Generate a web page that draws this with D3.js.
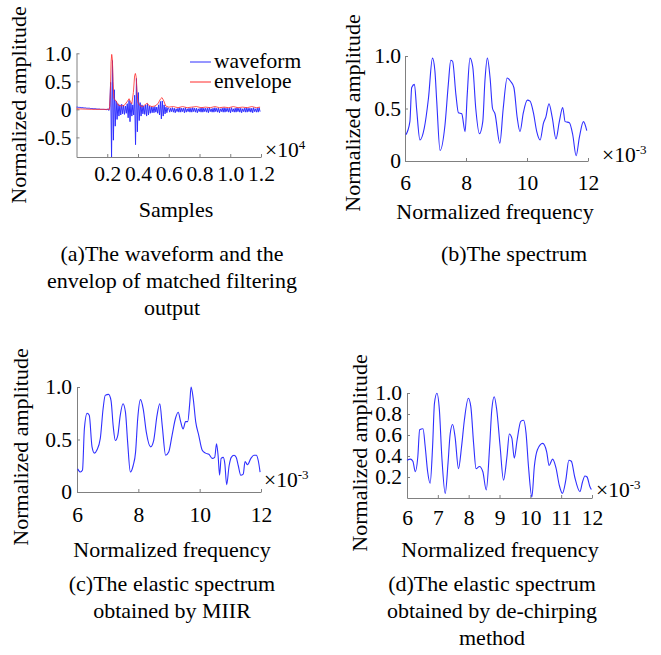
<!DOCTYPE html>
<html lang="en">
<head>
<meta charset="UTF-8">
<title>Matched filtering and spectra</title>
<script src="https://d3js.org/d3.v7.min.js"></script>
<style>
  body { margin: 0; background: #fff; }
  svg { display: block; }
  text { font-family: "Liberation Serif", "Times New Roman", serif; fill: #000; }
  .axis path, .axis line { stroke: #808080; }
  .axis text { font-size: 21.5px; font-family: "Liberation Serif", serif; }
</style>
</head>
<body>
<svg width="661" height="655"></svg>
<script>
// panel (a): samples of the matched filter output, one value every 60 samples
const waveStep = 60;
const waveform = [
  0.04, 0.04, 0.035, 0.035, 0.035, 0.03, 0.03, 0.03, 0.025, 0.025,
  0.025, 0.02, 0.02, 0.02, 0.02, 0.015, 0.015, 0.015, 0.01, 0.01,
  0.01, 0.01, 0.005, 0.005, 0.005, 0.005, 0.0, 0.0, 0.0, 0.0,
  0.0, -0.005, 0.0, -0.01, 0.01, -0.02, 0.05, 0.48, -0.85, 0.87,
  -0.55, 0.35, -0.3, 0.15, -0.18, 0.1, -0.12, 0.08, -0.1, 0.09,
  -0.08, 0.07, -0.09, 0.06, -0.07, 0.1, -0.15, 0.16, -0.22, 0.12,
  -0.12, 0.08, -0.1, 0.25, -0.63, 0.55, -0.4, 0.3, -0.2, 0.12,
  -0.12, 0.08, -0.08, 0.06, -0.09, 0.08, -0.12, 0.1, -0.1, 0.06,
  -0.07, 0.05, -0.06, 0.04, -0.06, 0.05, -0.05, 0.04, -0.07, 0.08,
  -0.1, 0.14, -0.17, 0.15, -0.12, 0.08, -0.08, 0.04, -0.06, 0.03,
  0.02, -0.05, 0.02, -0.04, 0.03, -0.05, 0.02, -0.06, 0.01, -0.04,
  0.02, -0.05, 0.03, -0.05, 0.02, -0.04, 0.02, -0.06, 0.03, -0.05,
  0.01, -0.04, 0.02, -0.05, 0.02, -0.05, 0.03, -0.04, 0.02, -0.05,
  0.02, -0.06, 0.01, -0.04, 0.02, -0.05, 0.03, -0.05, 0.02, -0.04,
  0.02, -0.05, 0.02, -0.06, 0.03, -0.04, 0.01, -0.05, 0.02, -0.05,
  0.03, -0.04, 0.02, -0.05, 0.02, -0.06, 0.01, -0.04, 0.02, -0.05,
  0.03, -0.05, 0.02, -0.04, 0.02, -0.05, 0.02, -0.06, 0.03, -0.04,
  0.01, -0.05, 0.02, -0.05, 0.03, -0.04, 0.02, -0.05, 0.02, -0.06,
  0.01, -0.04, 0.02, -0.05, 0.03, -0.05, 0.02, -0.04, 0.02, -0.05,
  0.02, -0.06, 0.03, -0.04, 0.01, -0.05, 0.02, -0.05, 0.03, -0.04
];
const envSamples = [0, 1000, 2000, 2150, 2200, 2250, 2290, 2330, 2380, 2430,
  2500, 2600, 2700, 2900, 3100, 3300, 3420, 3520, 3600, 3700,
  3780, 3830, 3880, 3940, 4000, 4150, 4300, 4500, 4600, 4700,
  4900, 5100, 5300, 5450, 5560, 5680, 5800, 6000, 6300, 6600,
  6900, 7200, 7500, 7800, 8100, 8400, 8700, 9000, 9300, 9600,
  9900, 10200, 10500, 10800, 11100, 11400, 11700, 11940];
const envValues = [0.01, 0.0, 0.0, 0.0, 0.3, 0.85, 0.98, 0.9, 0.5, 0.2,
  0.17, 0.14, 0.08, 0.06, 0.07, 0.14, 0.19, 0.13, 0.1, 0.3,
  0.6, 0.64, 0.58, 0.3, 0.12, 0.06, 0.05, 0.09, 0.11, 0.07,
  0.05, 0.06, 0.1, 0.18, 0.21, 0.15, 0.06, 0.04, 0.05, 0.03,
  0.05, 0.03, 0.04, 0.05, 0.03, 0.04, 0.03, 0.05, 0.03, 0.04,
  0.03, 0.05, 0.03, 0.04, 0.03, 0.05, 0.03, 0.04];

// panel (b): spectrum
const freqB = [6.03, 6.16, 6.22, 6.31, 6.38, 6.49, 6.63, 6.77, 6.90, 6.98,
  7.04, 7.15, 7.31, 7.42, 7.50, 7.56, 7.67, 7.75, 7.86, 7.97,
  8.04, 8.13, 8.22, 8.32, 8.44, 8.55, 8.62, 8.70, 8.79, 8.87,
  8.95, 9.11, 9.22, 9.35, 9.46, 9.57, 9.68, 9.77, 9.88, 10.01,
  10.10, 10.21, 10.32, 10.43, 10.54, 10.62, 10.72, 10.83, 10.95, 11.06,
  11.17, 11.25, 11.39, 11.50, 11.61, 11.72, 11.85, 11.96];
const ampB = [0.25, 0.375, 0.70, 0.73, 0.50, 0.20, 0.31, 0.60, 0.98, 0.86,
  0.57, 0.10, 0.34, 0.73, 0.96, 0.95, 0.63, 0.46, 0.45, 0.28,
  0.63, 0.98, 0.90, 0.50, 0.26, 0.375, 0.76, 0.98, 0.79, 0.50,
  0.45, 0.17, 0.50, 0.79, 0.76, 0.70, 0.41, 0.28, 0.46, 0.58,
  0.57, 0.46, 0.28, 0.20, 0.36, 0.42, 0.545, 0.41, 0.21, 0.375,
  0.51, 0.375, 0.365, 0.25, 0.05, 0.23, 0.375, 0.29];

// panel (c): elastic spectrum by MIIR
const freqC = [6.02, 6.11, 6.18, 6.24, 6.33, 6.40, 6.49, 6.57, 6.65, 6.76,
  6.85, 6.92, 7.03, 7.11, 7.18, 7.25, 7.33, 7.41, 7.50, 7.58,
  7.65, 7.74, 7.83, 7.91, 7.98, 8.07, 8.16, 8.26, 8.40, 8.50,
  8.61, 8.70, 8.78, 8.89, 8.99, 9.10, 9.21, 9.30, 9.38, 9.46,
  9.54, 9.61, 9.68, 9.72, 9.79, 9.87, 9.97, 10.08, 10.19, 10.30,
  10.41, 10.49, 10.55, 10.60, 10.65, 10.70, 10.77, 10.82, 10.88, 10.96,
  11.03, 11.12, 11.19, 11.26, 11.34, 11.42, 11.48, 11.56, 11.67, 11.77,
  11.85, 11.91, 11.97];
const ampC = [0.22, 0.19, 0.21, 0.60, 0.75, 0.73, 0.43, 0.37, 0.40, 0.51,
  0.79, 0.92, 0.93, 0.87, 0.63, 0.49, 0.54, 0.73, 0.84, 0.76,
  0.48, 0.19, 0.25, 0.38, 0.70, 0.88, 0.79, 0.57, 0.43, 0.49,
  0.73, 0.84, 0.63, 0.35, 0.38, 0.54, 0.70, 0.76, 0.67, 0.60,
  0.67, 0.67, 0.86, 1.00, 0.89, 0.67, 0.54, 0.40, 0.37, 0.36,
  0.32, 0.33, 0.46, 0.35, 0.16, 0.32, 0.33, 0.27, 0.07, 0.25,
  0.33, 0.35, 0.33, 0.25, 0.16, 0.17, 0.29, 0.26, 0.32, 0.35,
  0.35, 0.30, 0.19];

// panel (d): elastic spectrum by de-chirping
const freqD = [6.00, 6.11, 6.19, 6.27, 6.35, 6.41, 6.52, 6.59, 6.67, 6.75,
  6.83, 6.89, 6.97, 7.05, 7.13, 7.24, 7.33, 7.40, 7.48, 7.56,
  7.67, 7.77, 7.86, 7.99, 8.07, 8.16, 8.24, 8.35, 8.46, 8.57,
  8.68, 8.75, 8.83, 8.91, 9.02, 9.13, 9.24, 9.32, 9.40, 9.48,
  9.57, 9.69, 9.78, 9.86, 9.94, 10.05, 10.13, 10.23, 10.40, 10.53,
  10.61, 10.72, 10.83, 10.94, 11.04, 11.15, 11.25, 11.33, 11.44, 11.61,
  11.69, 11.77, 11.84, 11.93, 11.98];
const ampD = [0.36, 0.37, 0.35, 0.25, 0.39, 0.65, 0.66, 0.49, 0.25, 0.14,
  0.49, 0.90, 0.997, 0.84, 0.39, 0.044, 0.33, 0.61, 0.70, 0.58,
  0.28, 0.49, 0.74, 0.95, 0.87, 0.52, 0.28, 0.30, 0.25, 0.076,
  0.49, 0.84, 0.965, 0.84, 0.49, 0.17, 0.39, 0.61, 0.57, 0.38,
  0.55, 0.73, 0.74, 0.62, 0.30, 0.01, 0.30, 0.46, 0.52, 0.44,
  0.31, 0.37, 0.29, 0.12, 0.044, 0.17, 0.36, 0.35, 0.20, 0.06,
  0.15, 0.21, 0.20, 0.11, 0.08];

const ticksA = [2000, 4000, 6000, 8000, 10000, 12000];
const tickLabelsA = ["0.2", "0.4", "0.6", "0.8", "1.0", "1.2"];
const yTicksA = [-0.5, 0, 0.5, 1.0];
const yTickLabelsA = ["-0.5", "0", "0.5", "1.0"];
const freqTicks = [6, 8, 10, 12];
const freqTicksD = [6, 7, 8, 9, 10, 11, 12];
const ampTicks = [0, 0.5, 1.0];
const ampTickLabels = ["0", "0.5", "1.0"];
const ampTicksD = [0.2, 0.4, 0.6, 0.8, 1.0];
const ampTickLabelsD = ["0.2", "0.4", "0.6", "0.8", "1.0"];

const svg = d3.select("svg");
svg.append("rect").attr("width", 661).attr("height", 655).attr("fill", "#fff");

const BLUE = "#2f2fff";
const RED = "#ff2a2a";

function drawAxes(p) {
  const g = svg.append("g");
  const xAxis = d3.axisBottom(p.x).tickValues(p.xTicks)
    .tickFormat((d, i) => p.xLabels[i]).tickSizeInner(-3).tickSizeOuter(0)
    .tickPadding(p.xPad);
  g.append("g").attr("class", "axis")
    .attr("transform", `translate(0,${p.y.range()[0]})`).call(xAxis);
  const yAxis = d3.axisLeft(p.y).tickValues(p.yTicks)
    .tickFormat((d, i) => p.yLabels[i]).tickSizeInner(-3).tickSizeOuter(0)
    .tickPadding(p.yPad);
  g.append("g").attr("class", "axis")
    .attr("transform", `translate(${p.x.range()[0]},0)`).call(yAxis);

  // exponent label next to the end of the x axis
  const ex = svg.append("text").attr("x", p.expX).attr("y", p.expY)
    .attr("font-size", 21.5);
  ex.append("tspan").text("\u00d710");
  ex.append("tspan").attr("font-size", 13).attr("dy", -8).text(p.exp);

  svg.append("text").attr("x", p.xTitleX).attr("y", p.xTitleY)
    .attr("text-anchor", "middle").attr("font-size", 22).text(p.xTitle);
  svg.append("text")
    .attr("transform", `translate(${p.yTitleX},${p.yTitleY}) rotate(-90)`)
    .attr("text-anchor", "middle").attr("font-size", 22).text("Normalized amplitude");
  return g;
}

function caption(x, y, lines) {
  const t = svg.append("text").attr("text-anchor", "middle").attr("font-size", 22);
  lines.forEach((s, i) => t.append("tspan").attr("x", x).attr("y", y + i * 27).text(s));
}

// ---- panel (a)
const xA = d3.scaleLinear().domain([0, 12000]).range([76.5, 261]);
const yA = d3.scaleLinear().domain([-0.85, 1.0]).range([157, 53.3]);
drawAxes({x: xA, y: yA, xTicks: ticksA, xLabels: tickLabelsA, yTicks: yTicksA,
  yLabels: yTickLabelsA, xPad: 9, yPad: 5, exp: "4", expX: 265, expY: 157,
  xTitle: "Samples", xTitleX: 176, xTitleY: 217, yTitleX: 26, yTitleY: 105});

svg.append("path").datum(waveform)
  .attr("fill", "none").attr("stroke", BLUE).attr("stroke-width", 1)
  .attr("d", d3.line().x((d, i) => xA(i * waveStep)).y(d => yA(d)));
svg.append("path").datum(envSamples)
  .attr("fill", "none").attr("stroke", RED).attr("stroke-width", 1).attr("opacity", 0.8)
  .attr("d", d3.line().x(d => xA(d)).y((d, i) => yA(envValues[i])));

const legend = [["waveform", BLUE], ["envelope", RED]];
legend.forEach(([name, c], i) => {
  const ly = 62 + i * 20;
  svg.append("line").attr("x1", 190).attr("x2", 211).attr("y1", ly).attr("y2", ly)
    .attr("stroke", c).attr("stroke-width", 1);
  svg.append("text").attr("x", 214).attr("y", ly + 6).attr("font-size", 21.5).text(name);
});

// ---- spectra panels
function spectrum(p, freq, amp) {
  drawAxes(p);
  svg.append("path").datum(freq)
    .attr("fill", "none").attr("stroke", BLUE).attr("stroke-width", 1.1)
    .attr("d", d3.line().curve(d3.curveMonotoneX)
      .x(d => p.x(d)).y((d, i) => p.y(amp[i])));
}

spectrum({x: d3.scaleLinear().domain([6, 12]).range([405, 588]),
  y: d3.scaleLinear().domain([0, 1]).range([161, 56]),
  xTicks: freqTicks, xLabels: freqTicks.map(String), yTicks: ampTicks, yLabels: ampTickLabels,
  xPad: 14, yPad: 4, exp: "-3", expX: 602, expY: 162,
  xTitle: "Normalized frequency", xTitleX: 495, xTitleY: 219, yTitleX: 360, yTitleY: 113},
  freqB, ampB);

spectrum({x: d3.scaleLinear().domain([6, 12]).range([77, 261]),
  y: d3.scaleLinear().domain([0, 1]).range([492, 387]),
  xTicks: freqTicks, xLabels: freqTicks.map(String), yTicks: ampTicks, yLabels: ampTickLabels,
  xPad: 15, yPad: 5, exp: "-3", expX: 264, expY: 487,
  xTitle: "Normalized frequency", xTitleX: 172, xTitleY: 557, yTitleX: 28, yTitleY: 447},
  freqC, ampC);

spectrum({x: d3.scaleLinear().domain([6, 12]).range([407, 592]),
  y: d3.scaleLinear().domain([0, 1]).range([498, 393]),
  xTicks: freqTicksD, xLabels: freqTicksD.map(String), yTicks: ampTicksD, yLabels: ampTickLabelsD,
  xPad: 12, yPad: 5, exp: "-3", expX: 596, expY: 497,
  xTitle: "Normalized frequency", xTitleX: 500, xTitleY: 557, yTitleX: 367, yTitleY: 453},
  freqD, ampD);

// ---- captions
caption(172, 261, ["(a)The waveform and the", "envelop of matched filtering", "output"]);
caption(514, 261, ["(b)The spectrum"]);
caption(172, 591, ["(c)The elastic spectrum", "obtained by MIIR"]);
caption(492, 591, ["(d)The elastic spectrum", "obtained by de-chirping", "method"]);
</script>
</body>
</html>
